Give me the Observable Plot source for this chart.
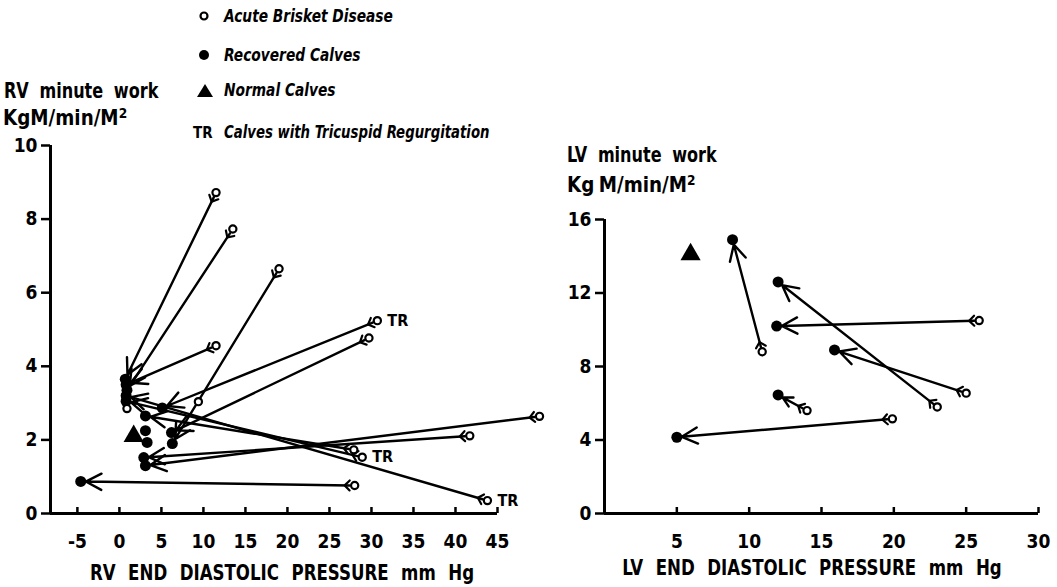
<!DOCTYPE html>
<html><head><meta charset="utf-8">
<script src="https://cdn.jsdelivr.net/npm/d3@7"></script>
<script src="https://cdn.jsdelivr.net/npm/@observablehq/plot@0.6"></script>
<style>
body{margin:0;background:#fff;}
#wrap{position:relative;width:1057px;height:587px;overflow:hidden;font-family:"DejaVu Sans Condensed","DejaVu Sans",sans-serif;font-weight:bold;color:#000;}
.t{position:absolute;white-space:nowrap;line-height:1;transform-origin:0 50%;}
.leg{font-style:italic;font-size:18px;transform:scaleX(0.85);}
.leg2{font-style:italic;font-size:18px;transform:scaleX(0.82);}
.ttl{font-size:21px;word-spacing:6px;transform:scaleX(0.85);}
.unit{font-size:21px;transform:scaleX(0.97);}
.xt{font-size:22px;word-spacing:8px;text-align:center;width:500px;transform-origin:50% 50%;transform:scaleX(0.84);}
</style></head>
<body><div id="wrap">
<svg width="30" height="140" style="position:absolute;left:190px;top:0">
  <circle cx="14" cy="16" r="3.5" fill="#fff" stroke="#000" stroke-width="2.2"></circle>
  <circle cx="14" cy="55" r="5" fill="#000"></circle>
  <path d="M7,97 L15,84 L23,97 Z" fill="#000"></path>
</svg>
<div class="t leg" style="left:224px;top:7px">Acute Brisket Disease</div>
<div class="t leg" style="left:224px;top:46px">Recovered Calves</div>
<div class="t leg" style="left:224px;top:81px">Normal Calves</div>
<div class="t" style="left:193px;top:126px;font-size:15px">TR</div>
<div class="t leg2" style="left:224px;top:123px">Calves with Tricuspid Regurgitation</div>
<div class="t ttl" style="left:4px;top:81px">RV minute work</div>
<div class="t unit" style="left:3px;top:106px">KgM/min/M<sup style="font-size:14px;vertical-align:7px">2</sup></div>
<div class="t ttl" style="left:567px;top:145px">LV minute work</div>
<div class="t unit" style="left:567px;top:173px;word-spacing:-2px">Kg M/min/M<sup style="font-size:14px;vertical-align:7px">2</sup></div>
<div class="t xt" style="left:32px;top:562px">RV END DIASTOLIC PRESSURE mm Hg</div>
<div class="t xt" style="left:562px;top:557px">LV END DIASTOLIC PRESSURE mm Hg</div>
</div>
<script>
// ---------- Left panel: RV (acute -> recovered) ----------
const rvAcuteEDP  = [11.5, 13.5, 11.5, 19.0, 30.7, 29.7, 28.9, 43.8, 27.9, 50.0, 41.7, 28.0];
const rvAcuteWork = [8.72, 7.73, 4.56, 6.65, 5.24, 4.77, 1.53, 0.35, 1.73, 2.64, 2.11, 0.76];
const rvRecEDP    = [0.7, 0.9, 0.8, 6.3, 5.1, 6.2, 0.8, 0.8, 3.1, 3.1, 2.9, -4.6];
const rvRecWork   = [3.65, 3.35, 3.5, 1.9, 2.87, 2.2, 3.05, 3.2, 2.65, 1.3, 1.52, 0.87];
const rvTR        = [false, false, false, false, true, false, true, true, false, false, false, false];
const rvAcuteOnlyEDP = [0.9, 9.4];
const rvAcuteOnlyWork = [2.85, 3.04];
const rvRecOnlyEDP = [3.1, 3.3];
const rvRecOnlyWork = [2.25, 1.93];
const rvNormalEDP = [1.7];
const rvNormalWork = [2.1];
const rvXTicks = [-5, 0, 5, 10, 15, 20, 25, 30, 35, 40, 45];
const rvYTicks = [0, 2, 4, 6, 8, 10];

// ---------- Right panel: LV ----------
const lvAcuteEDP  = [10.9, 23.0, 25.9, 25.0, 14.0, 19.9];
const lvAcuteWork = [8.8, 5.8, 10.5, 6.55, 5.6, 5.15];
const lvRecEDP    = [8.85, 12.0, 11.9, 15.9, 12.0, 5.0];
const lvRecWork   = [14.9, 12.6, 10.2, 8.9, 6.45, 4.15];
const lvNormalEDP = [5.95];
const lvNormalWork = [14.1];
const lvXTicks = [5, 10, 15, 20, 25, 30];
const lvYTicks = [0, 4, 8, 12, 16];

const FONT = '"DejaVu Sans Condensed","DejaVu Sans",sans-serif';

const tail = {draw(ctx, l) { ctx.moveTo(-5, -l + 5); ctx.lineTo(0, -l); ctx.lineTo(5, -l + 5); }};

function pairs(ax, ay, rx, ry, tr) {
  return ax.map((_, i) => ({ax: ax[i], ay: ay[i], rx: rx[i], ry: ry[i], tr: tr ? tr[i] : false}));
}
function pts(xs, ys) { return xs.map((x, i) => ({x, y: ys[i]})); }

function panel({width, mL, mR, mT, mB, xDomain, yDomain, xTicks, yTicks, data, acuteOnly, recOnly, normal}) {
  const kx = (width - mL - mR) / (xDomain[1] - xDomain[0]);
  const ky = (587 - mT - mB) / (yDomain[1] - yDomain[0]);
  const rot = d => Math.atan2((d.rx - d.ax) * kx, (d.ry - d.ay) * ky) * 180 / Math.PI;
  const tickLen = 6 / ky;
  return Plot.plot({
    width, height: 587, marginLeft: mL, marginRight: mR, marginTop: mT, marginBottom: mB,
    style: {background: "transparent", fontFamily: FONT, fontSize: "19px", fontWeight: "bold", color: "#000", overflow: "visible"},
    x: {domain: xDomain, range: [mL, width - mR], axis: null},
    y: {domain: yDomain, range: [587 - mB, mT], axis: null},
    marks: [
      Plot.axisY({ticks: yTicks, tickSize: 9, tickPadding: 4, strokeWidth: 2.5, label: null}),
      Plot.text(xTicks, {x: d => d, y: yDomain[0], text: d => String(d), dy: 28, fontSize: 19, fontWeight: "bold", fill: "#000"}),
      Plot.ruleX(xTicks, {x: d => d, y1: yDomain[0], y2: yDomain[0] + tickLen, strokeWidth: 2.5}),
      Plot.ruleY([yDomain[0]], {x1: xDomain[0], x2: xDomain[1], strokeWidth: 3}),
      Plot.ruleX([xDomain[0]], {y1: yDomain[0], y2: yDomain[1], strokeWidth: 3}),
      Plot.arrow(data, {x1: "ax", y1: "ay", x2: "rx", y2: "ry", strokeWidth: 2.4, headLength: 11, headAngle: 55, insetStart: 5, insetEnd: 5, stroke: "#000"}),
      Plot.vector(data, {x: "ax", y: "ay", rotate: rot, length: 10, anchor: "start", shape: tail, strokeWidth: 2.2, stroke: "#000"}),
      Plot.dot(data, {x: "rx", y: "ry", r: 5.5, fill: "#000"}),
      Plot.dot(recOnly, {x: "x", y: "y", r: 5.5, fill: "#000"}),
      Plot.dot(data, {x: "ax", y: "ay", r: 3.6, fill: "#fff", stroke: "#000", strokeWidth: 2.2}),
      Plot.dot(acuteOnly, {x: "x", y: "y", r: 3.6, fill: "#fff", stroke: "#000", strokeWidth: 2.2}),
      Plot.dot(normal, {x: "x", y: "y", r: 7.5, symbol: "triangle", fill: "#000"}),
      Plot.text(data.filter(d => d.tr), {x: "ax", y: "ay", text: () => "TR", dx: 10, textAnchor: "start", fontSize: 16, fontWeight: "bold"})
    ]
  });
}

const wrap = document.getElementById("wrap");
const left = panel({
  width: 560, mL: 50, mR: 63, mT: 145, mB: 74,
  xDomain: [-8.2, 45], yDomain: [0, 10], xTicks: rvXTicks, yTicks: rvYTicks,
  data: pairs(rvAcuteEDP, rvAcuteWork, rvRecEDP, rvRecWork, rvTR),
  acuteOnly: pts(rvAcuteOnlyEDP, rvAcuteOnlyWork),
  recOnly: pts(rvRecOnlyEDP, rvRecOnlyWork),
  normal: pts(rvNormalEDP, rvNormalWork)
});
left.style.position = "absolute"; left.style.left = "0px"; left.style.top = "0px";
wrap.appendChild(left);

const right = panel({
  width: 497, mL: 44, mR: 19, mT: 219, mB: 74,
  xDomain: [0, 30], yDomain: [0, 16], xTicks: lvXTicks, yTicks: lvYTicks,
  data: pairs(lvAcuteEDP, lvAcuteWork, lvRecEDP, lvRecWork, null),
  acuteOnly: [],
  recOnly: [],
  normal: pts(lvNormalEDP, lvNormalWork)
});
right.style.position = "absolute"; right.style.left = "560px"; right.style.top = "0px";
wrap.appendChild(right);
</script>
</body></html>
